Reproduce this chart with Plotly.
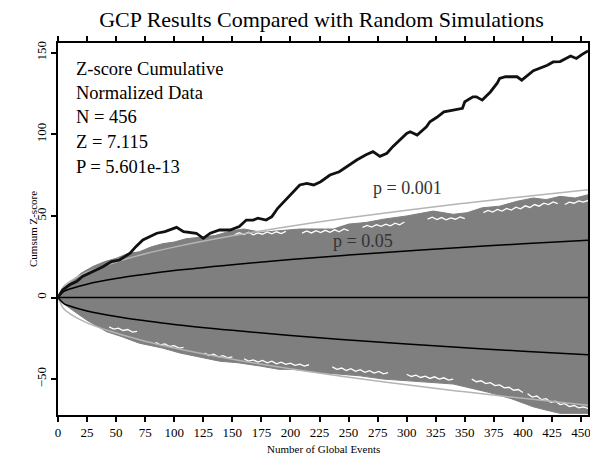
import plotly.graph_objects as go

# ---- data ----
gcp_n = [0, 4, 10, 16, 21, 30, 39, 46, 53, 62, 67, 73, 79, 85, 92, 102, 108, 119, 125, 131,
         139, 148, 156, 162, 168, 172, 179, 184, 189, 196, 205, 208, 214, 220, 226, 234, 242,
         248, 257, 265, 271, 277, 283, 288, 294, 300, 303, 309, 317, 320, 326, 332, 340, 348,
         350, 357, 360, 365, 372, 378, 380, 385, 395, 399, 409, 421, 426, 432, 441, 446, 451, 456]
gcp_z = [0, 4.7, 7.8, 9.8, 12.9, 15.9, 19.0, 22.0, 23.0, 27.2, 31.2, 35.3, 37.3, 39.4, 40.4, 43.0,
         40.4, 39.4, 36.3, 39.4, 41.4, 41.4, 43.5, 47.5, 47.5, 48.6, 47.5, 49.6, 54.7, 59.8, 66.5,
         69.0, 70.0, 69.0, 71.0, 75.1, 77.1, 80.2, 84.3, 87.5, 89.4, 86.5, 88.4, 92.5, 96.5, 100.6,
         101.6, 99.6, 104.6, 107.7, 110.5, 113.8, 114.9, 116.0, 120.0, 123.0, 123.0, 121.0, 126.0,
         131.5, 134.3, 135.3, 135.3, 133.2, 139.0, 142.4, 144.4, 144.6, 148.0, 146.5, 149.0, 151.2]

env_n = [0, 5, 10, 25, 50, 75, 100, 150, 200, 250, 300, 350, 400, 456]
p05_z = [0, 3.7, 5.2, 8.2, 11.6, 14.2, 16.5, 20.1, 23.3, 26.0, 28.5, 30.8, 32.9, 35.1]
p001_z = [0, 6.9, 9.8, 15.5, 21.8, 26.8, 30.9, 37.8, 43.7, 48.9, 53.5, 57.8, 61.8, 66.0]

# outer extent of the simulated random walks
sim_up_n = [0, 5, 12, 20, 30, 40, 50, 60, 70, 80, 90, 100, 110, 122, 135, 150, 160, 175, 190,
            208, 225, 237, 250, 265, 280, 300, 323, 340, 352, 365, 380, 395, 409, 420, 432, 445, 456]
sim_up_z = [0, 6, 10, 15, 19, 22, 24, 27, 28, 31, 33, 34, 36, 37, 38, 41, 42, 40, 41, 42, 42, 42,
            45, 46, 48, 50, 53, 51, 52, 55, 56, 59, 61, 60, 62, 61, 63]
sim_lo_n = [0, 5, 13, 25, 42, 55, 70, 90, 105, 120, 139, 155, 174, 190, 202, 225, 240, 260, 280,
            300, 320, 340, 352, 370, 390, 409, 420, 432, 445, 456]
sim_lo_z = [0, -4, -8, -14, -21, -24, -28, -31, -34, -36, -39, -40, -42, -44, -44, -46, -47, -48,
            -50, -51, -52, -53, -55, -58, -62, -67, -69, -71, -71, -71]

# thin white gaps between the outermost simulated paths (segments, start n, step 4)
gaps_up = [
    (152, [38.5, 39.8, 38.6, 40, 38.4, 39.6, 38.8, 40.2, 39, 40.3, 39.2, 40.5]),
    (210, [39.5, 40.8, 39.6, 41, 39.8, 41.2, 40, 41.5, 40.3, 42, 41]),
    (262, [43, 44.2, 43.2, 44.6, 43.6, 45, 44, 45.6, 44.6, 46.3]),
    (318, [48, 49.2, 47.8, 49, 47.6, 48.8, 48, 49.4, 48.4]),
    (366, [52, 53.4, 52.4, 54, 53, 54.6, 53.6, 55.4, 54.4, 56.2, 55.2, 57, 56, 57.8, 57, 58.6, 57.6]),
    (436, [57, 58.5, 57.8, 59.2, 58.5, 59.5]),
]
gaps_lo = [
    (44, [-18, -19.3, -18.8, -20.2, -19.6, -21.2, -20.8]),
    (84, [-27.5, -29, -28.4, -30, -29.5, -31, -30.6]),
    (126, [-34, -35.5, -34.8, -36.4, -35.6, -37, -36.4]),
    (160, [-37.5, -39, -38.2, -39.6, -38.6, -40, -39, -40.6, -39.6, -41, -40.2, -41.6, -40.8, -42, -41.2]),
    (236, [-42.5, -44, -43.2, -44.8, -43.6, -45.2, -44.2, -45.8, -44.8, -46.3, -45.3, -46.8, -46]),
    (300, [-47, -48.4, -47.6, -49, -48.2, -49.6, -48.6, -50, -49.2, -50.6, -50]),
    (356, [-50, -51.6, -51, -52.8, -52.2, -54, -53.6, -55.4, -55, -56.8, -56.4, -58.2]),
    (404, [-59, -61, -60.4, -62.6, -62, -64.2, -63.6, -65.6, -65, -66.8, -66.2, -67.6, -67, -68]),
]

x_ticks = list(range(0, 451, 25))
y_ticks = [-50, 0, 50, 100, 150]
stats_lines = ["Z-score Cumulative", "Normalized Data", "N = 456", "Z = 7.115", "P = 5.601e-13"]

SERIF = "Liberation Serif, Times New Roman, serif"
GRAY = "#7f7f7f"
fig = go.Figure()

# simulations band
fig.add_trace(go.Scatter(
    x=sim_up_n + sim_lo_n[::-1], y=sim_up_z + sim_lo_z[::-1],
    fill="toself", fillcolor=GRAY, mode="lines",
    line=dict(color=GRAY, width=1), hoverinfo="skip", showlegend=False))
gx, gy = [], []
for start, vals in gaps_up + gaps_lo:
    gx += [start + 4 * i for i in range(len(vals))] + [None]
    gy += vals + [None]
fig.add_trace(go.Scatter(x=gx, y=gy, mode="lines", line=dict(color="white", width=1.3),
                         connectgaps=False, hoverinfo="skip", showlegend=False))

# zero line
fig.add_trace(go.Scatter(x=[0, 456], y=[0, 0], mode="lines",
                         line=dict(color="black", width=1.5), showlegend=False))

# envelopes
for sign in (1, -1):
    fig.add_trace(go.Scatter(x=env_n, y=[sign * v for v in p001_z], mode="lines",
                             line=dict(color="#b4b4b4", width=1.5, shape="spline"),
                             showlegend=False))
    fig.add_trace(go.Scatter(x=env_n, y=[sign * v for v in p05_z], mode="lines",
                             line=dict(color="black", width=1.5, shape="spline"),
                             showlegend=False))

# GCP cumulative
fig.add_trace(go.Scatter(x=gcp_n, y=gcp_z, mode="lines",
                         line=dict(color="#111111", width=2.8), showlegend=False))

line_y = [69.3, 92.9, 117.3, 142.0, 166.5]
for txt, py in zip(stats_lines, line_y):
    fig.add_annotation(x=0, y=1, xref="paper", yref="paper", xanchor="left", yanchor="middle",
                       xshift=16, yshift=-(py - 43), text=txt, showarrow=False,
                       font=dict(family=SERIF, size=18.5, color="black"))
fig.add_annotation(x=301, y=67, text="p = 0.001", showarrow=False,
                   font=dict(family=SERIF, size=18, color="#333333"))
fig.add_annotation(x=262, y=34.7, text="p = 0.05", showarrow=False,
                   font=dict(family=SERIF, size=18, color="#333333"))
# axis titles
fig.add_annotation(x=0.5, y=0, xref="paper", yref="paper", xanchor="center", yanchor="middle",
                   yshift=-34, text="Number of Global Events", showarrow=False,
                   font=dict(family=SERIF, size=11, color="black"))
fig.add_annotation(x=0, y=0.5, xref="paper", yref="paper", xanchor="center", yanchor="middle",
                   xshift=-25, textangle=-90, text="Cumsum Z-score", showarrow=False,
                   font=dict(family=SERIF, size=11, color="black"))

fig.update_layout(
    width=590, height=457,
    margin=dict(l=58, r=2, t=43, b=42, autoexpand=False),
    paper_bgcolor="white", plot_bgcolor="white",
    title=dict(text="GCP Results Compared with Random Simulations", x=0.545, xanchor="center",
               y=1, yref="paper", yanchor="bottom", pad=dict(b=16),
               font=dict(family=SERIF, size=22, color="black")),
    font=dict(family=SERIF, color="black"),
)
fig.update_xaxes(range=[0, 456], tickvals=x_ticks, ticks="outside", ticklen=5, tickwidth=1.5,
                 tickcolor="black", showline=True, linecolor="black", linewidth=1.5,
                 mirror="ticks", showgrid=False, zeroline=False, automargin=False,
                 ticklabeloverflow="allow",
                 tickfont=dict(family=SERIF, size=13))
fig.update_yaxes(range=[-72, 156], tickvals=y_ticks, ticks="outside", ticklen=5, tickwidth=1.5,
                 tickcolor="black", showline=True, linecolor="black", linewidth=1.5,
                 mirror="ticks", showgrid=False, zeroline=False, tickangle=-90, automargin=False,
                 tickfont=dict(family=SERIF, size=13))

fig.write_html("out.html", config={"displayModeBar": False},
               post_script="document.body.style.margin='0';document.body.style.overflow='hidden';")
